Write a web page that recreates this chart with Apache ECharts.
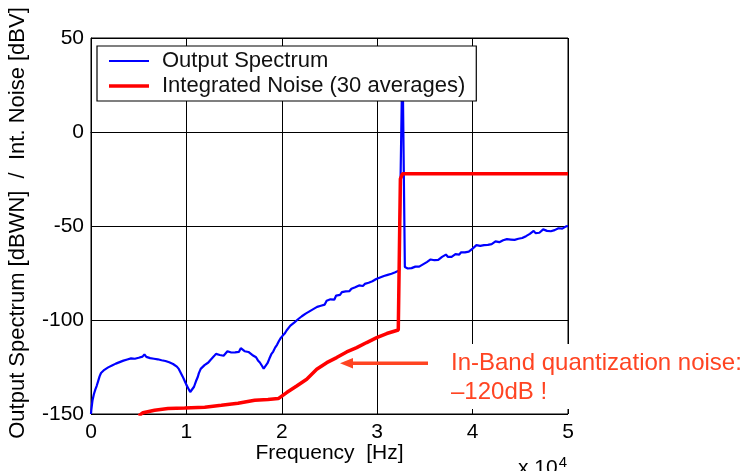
<!DOCTYPE html>
<html>
<head>
<meta charset="utf-8">
<script src="https://cdn.jsdelivr.net/npm/echarts@6/dist/echarts.min.js"></script>
<style>
html,body{margin:0;padding:0;background:#fff;}
#chart{width:745px;height:471px;}
</style>
</head>
<body>
<div id="chart"></div>
<script>
// Frequency in units of 10^4 Hz
var xTicks = [0, 1, 2, 3, 4, 5];
var yTicks = [-150, -100, -50, 0, 50];

var spectrumFreq = [0,0.003,0.015,0.03,0.045,0.06,0.075,0.09,0.105,0.12,0.14,0.16,0.18,0.2,0.22,0.24,0.26,0.28,0.30,0.32,0.34,0.36,0.38,0.40,0.42,0.44,0.46,0.48,0.50,0.52,0.54,0.56,0.58,0.60,0.62,0.64,0.66,0.68,0.70,0.72,0.74,0.76,0.78,0.80,0.82,0.84,0.86,0.88,0.90,0.92,0.94,0.96,0.98,1.00,1.02,1.04,1.05,1.06,1.08,1.10,1.12,1.13,1.15,1.17,1.19,1.21,1.23,1.25,1.27,1.29,1.31,1.33,1.35,1.37,1.39,1.41,1.43,1.45,1.47,1.49,1.51,1.53,1.55,1.57,1.59,1.61,1.63,1.65,1.67,1.69,1.71,1.73,1.75,1.77,1.79,1.81,1.83,1.85,1.87,1.89,1.91,1.93,1.95,1.97,1.99,2.01,2.03,2.05,2.07,2.09,2.11,2.13,2.15,2.17,2.19,2.21,2.23,2.25,2.27,2.29,2.31,2.33,2.35,2.37,2.39,2.41,2.43,2.45,2.47,2.49,2.51,2.53,2.55,2.57,2.59,2.61,2.63,2.65,2.67,2.69,2.71,2.73,2.75,2.77,2.79,2.81,2.83,2.85,2.87,2.89,2.91,2.93,2.95,2.97,2.99,3.01,3.03,3.05,3.07,3.09,3.11,3.13,3.15,3.17,3.19,3.21,3.23,3.245,3.265,3.29,3.305,3.32,3.34,3.36,3.38,3.40,3.42,3.44,3.46,3.48,3.50,3.52,3.54,3.56,3.58,3.60,3.62,3.64,3.66,3.68,3.70,3.72,3.74,3.76,3.78,3.80,3.82,3.84,3.86,3.88,3.90,3.92,3.94,3.96,3.98,4.00,4.02,4.04,4.06,4.08,4.10,4.12,4.14,4.16,4.18,4.20,4.22,4.24,4.26,4.28,4.30,4.32,4.34,4.36,4.38,4.40,4.42,4.44,4.46,4.48,4.50,4.52,4.54,4.56,4.58,4.60,4.62,4.64,4.66,4.68,4.70,4.72,4.74,4.76,4.78,4.80,4.82,4.84,4.86,4.88,4.90,4.92,4.94,4.96,4.98,5.00];
var spectrumDb = [-150,-148,-143,-139.5,-137,-135,-132.5,-130,-128.2,-127.5,-126.5,-126.8,-125.2,-125.5,-124.2,-124.6,-123.2,-123.8,-122.4,-122.9,-121.6,-122.2,-121.0,-121.5,-120.4,-121.3,-120.6,-120.9,-120.1,-120.6,-119.5,-118.3,-119.6,-119.2,-120.3,-119.8,-120.6,-120.0,-120.9,-120.4,-121.4,-120.8,-121.8,-121.4,-122.5,-122.4,-123.4,-123.8,-124.8,-126.0,-128.0,-130.0,-132.2,-134.5,-136.4,-138.3,-138.8,-137.6,-135.5,-132.6,-130.2,-128.4,-126.0,-125.2,-124.0,-123.6,-122.6,-121.4,-121.8,-119.2,-118.0,-119.0,-118.6,-118.0,-119.0,-118.0,-116.6,-117.6,-117.3,-116.8,-117.2,-116.4,-117.0,-115.0,-115.5,-116.6,-117.2,-117.0,-117.8,-118.6,-118.5,-119.8,-121.5,-122.6,-124.2,-125.9,-125.0,-123.0,-120.5,-118.2,-116.8,-114.7,-113.2,-111.2,-109.5,-108.3,-107.2,-105.6,-105.2,-103.0,-102.5,-101.4,-100.8,-99.6,-99.3,-98.0,-98.2,-96.6,-96.9,-95.4,-95.8,-94.2,-94.6,-93.0,-93.9,-92.4,-91.5,-91.8,-89.8,-90.6,-89.0,-88.6,-89.2,-87.0,-87.6,-86.6,-85.2,-86.0,-84.8,-83.8,-84.6,-83.4,-84.0,-82.6,-83.2,-81.6,-81.2,-81.9,-80.8,-81.0,-80.2,-80.4,-79.4,-79.0,-78.2,-78.4,-77.4,-77.6,-76.6,-76.9,-76.0,-76.3,-75.4,-75.6,-74.6,-74.8,-73.6,-73.8,42,-71.8,-72.2,-72.6,-73.0,-72.4,-72.0,-71.6,-71.2,-71.6,-70.8,-70.4,-70.2,-69.2,-68.4,-67.8,-68.8,-68.2,-68.8,-68.0,-67.2,-66.4,-65.6,-65.2,-66.4,-65.8,-66.4,-65.8,-65.0,-64.6,-65.2,-64.0,-63.4,-64.0,-63.2,-63.6,-62.6,-62.0,-61.6,-60.2,-59.6,-60.6,-61.0,-60.2,-59.6,-60.0,-59.4,-59.6,-58.8,-58.2,-58.0,-58.6,-58.4,-57.6,-57.8,-57.0,-57.4,-57.2,-56.8,-57.4,-57.6,-56.8,-56.6,-56.4,-55.8,-55.4,-55.8,-54.2,-53.4,-52.6,-53.8,-54.2,-53.6,-53.2,-51.8,-52.2,-52.6,-52.4,-52.8,-53.2,-52.2,-51.6,-51.2,-50.8,-51.4,-50.6,-50.2,-50.0];

var noiseFreq = [0.5,0.545,0.667,0.807,0.982,1.192,1.366,1.541,1.716,1.855,1.963,2.051,2.156,2.261,2.366,2.471,2.575,2.68,2.785,2.89,2.995,3.10,3.221,3.239,3.243,3.265,5.0];
var noiseDb = [-151,-149.3,-148.0,-147.1,-146.8,-146.4,-145.4,-144.3,-142.7,-142.3,-141.8,-138.6,-135.1,-131.5,-126.2,-122.7,-120.0,-117.0,-114.7,-112.0,-109.4,-107.2,-105.3,-105.0,-25,-22.2,-22.2];

function pairs(xs, ys){ var o=[]; for(var i=0;i<xs.length;i++){o.push([xs[i], ys[i]]);} return o; }

var FONT = '"Liberation Sans", Arial, sans-serif';
var ANN = '#ff4422';

var chart = echarts.init(document.getElementById('chart'), null, {renderer:'canvas'});
chart.setOption({
  animation: false,
  backgroundColor: '#fff',
  textStyle: {fontFamily: FONT},
  grid: {left: 91, top: 38, width: 477, height: 376, show: true, borderColor: '#000', borderWidth: 1,
         containLabel: false, outerBoundsMode: 'none'},
  legend: {
    orient: 'vertical', left: 97, top: 46,
    padding: [4, 11, 4, 12],
    backgroundColor: '#fff', borderColor: '#000', borderWidth: 1.2,
    itemWidth: 40, itemHeight: 14, itemGap: 3,
    textStyle: {fontSize: 22, color: '#111', fontFamily: FONT, padding: [0,0,0,8]},
    data: [
      {name: 'Output Spectrum', icon: 'path://M0,0H40V2H0Z'},
      {name: 'Integrated Noise (30 averages)', icon: 'path://M0,0H40V3.6H0Z'}
    ]
  },
  xAxis: {
    type: 'value', min: 0, max: 5, interval: 1,
    name: 'Frequency  [Hz]', nameLocation: 'middle', nameGap: 29, nameMoveOverlap: false,
    nameTextStyle: {fontSize: 21, color: '#000', fontFamily: FONT},
    axisLine: {lineStyle: {color: '#000', width: 1}},
    axisTick: {inside: true, length: 5, lineStyle: {color: '#000'}},
    axisLabel: {fontSize: 21, color: '#000', margin: 8, fontFamily: FONT},
    splitLine: {show: true, lineStyle: {color: '#000', width: 1}}
  },
  yAxis: {
    type: 'value', min: -150, max: 50, interval: 50,
    name: 'Output Spectrum [dBWN]  /  Int. Noise [dBV]', nameLocation: 'middle', nameGap: 62, nameMoveOverlap: false,
    nameTextStyle: {fontSize: 22, color: '#000', fontFamily: FONT, padding: [0, 0, 0, 6]},
    axisLine: {show: true, lineStyle: {color: '#000', width: 1}},
    axisTick: {show: true, inside: true, length: 5, lineStyle: {color: '#000'}},
    axisLabel: {fontSize: 21, color: '#000', margin: 7, fontFamily: FONT},
    splitLine: {show: true, lineStyle: {color: '#000', width: 1}}
  },
  series: [
    {name: 'Output Spectrum', type: 'line', data: pairs(spectrumFreq, spectrumDb),
     symbol: 'none', lineStyle: {color: '#0000ff', width: 2.2}, itemStyle: {color: '#0000ff'}, z: 3},
    {name: 'Integrated Noise (30 averages)', type: 'line', data: pairs(noiseFreq, noiseDb),
     symbol: 'none', lineStyle: {color: '#ff0000', width: 3.5}, itemStyle: {color: '#ff0000'}, z: 4}
  ],
  graphic: [
    {type: 'rect', shape: {x: 440, y: 344, width: 305, height: 65}, style: {fill: '#fff'}, z: 50, silent: true},
    {type: 'line', shape: {x1: 428, y1: 363.3, x2: 350, y2: 363.3}, style: {stroke: ANN, lineWidth: 3.5}, z: 51},
    {type: 'polygon', shape: {points: [[340, 363.3], [353, 358], [353, 368.6]]}, style: {fill: ANN}, z: 51},
    {type: 'text', x: 451, y: 349, z: 52,
     style: {text: 'In-Band quantization noise:\n\u2013120dB !', fill: ANN, fontSize: 24, lineHeight: 29, fontFamily: FONT, textVerticalAlign: 'top'}},
    {type: 'text', x: 518, y: 455, z: 52,
     style: {text: '{b|x 10}{s|4}', fill: '#000', fontFamily: FONT,
       rich: {b: {fontSize: 21, fontFamily: FONT, fill: '#000', verticalAlign: 'bottom', lineHeight: 24},
              s: {fontSize: 15, fontFamily: FONT, fill: '#000', verticalAlign: 'top', lineHeight: 24, padding: [0,0,10,1]}}}}
  ]
});
</script>
</body>
</html>
